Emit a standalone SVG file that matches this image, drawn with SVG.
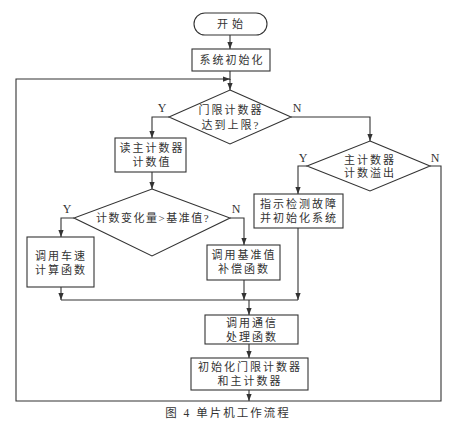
<svg xmlns="http://www.w3.org/2000/svg" width="456" height="424" viewBox="0 0 456 424">
<defs>
<marker id="ah" viewBox="0 0 8 8" refX="8" refY="4" markerWidth="7" markerHeight="7" markerUnits="userSpaceOnUse" orient="auto">
<path d="M0,1 L8,4 L0,7 Z" fill="#333"/>
</marker>
<style>
.n{fill:#fff;stroke:#333;stroke-width:1.1}
.t{font-family:"Liberation Serif","Noto Sans CJK SC",serif;font-size:11px;letter-spacing:2px;fill:#333;text-anchor:middle}
.l{font-family:"Liberation Serif",serif;font-size:12px;fill:#333;text-anchor:middle}
.c{fill:none;stroke:#333;stroke-width:1.1}
.a{fill:none;stroke:#333;stroke-width:1.1;marker-end:url(#ah)}
</style>
</defs>
<rect width="456" height="424" fill="#fff"/>
<g id="connectors">
<path class="a" d="M230,35 V49"/>
<path class="c" d="M230,71 V80"/>
<path class="a" d="M230,79 V90"/>
<path class="a" d="M249,390 V401"/>
<path class="a" d="M430,166 H441 V401 H16 V79 H230"/>
<path class="a" d="M169,117 H152 V138"/>
<path class="a" d="M291,117 H370 V141"/>
<path class="a" d="M152,172 V189"/>
<path class="a" d="M74,218 H61 V237"/>
<path class="a" d="M230,218 H244 V245"/>
<path class="a" d="M307,166 H298 V194"/>
<path class="a" d="M61,287 V300"/>
<path class="a" d="M244,280 V300"/>
<path class="a" d="M298,228 V300"/>
<path class="c" d="M61,300 H298"/>
<path class="a" d="M249,300 V315"/>
<path class="a" d="M249,344 V358"/>
<text class="l" x="162" y="112">Y</text>
<text class="l" x="297" y="112">N</text>
<text class="l" x="67" y="213">Y</text>
<text class="l" x="236" y="213">N</text>
<text class="l" x="303" y="162">Y</text>
<text class="l" x="435" y="162">N</text>
</g>
<g id="start">
<rect class="n" x="194" y="13" width="73" height="22" rx="11"/>
<text class="t" x="232" y="28" style="letter-spacing:4px">开始</text>
</g>
<g id="init">
<rect class="n" x="192" y="49" width="78" height="22"/>
<text class="t" x="232" y="64">系统初始化</text>
</g>
<g id="d1">
<polygon class="n" points="230,90 291,117 230,144 169,117"/>
<text class="t" x="231" y="114">门限计数器</text>
<text class="t" x="231" y="129">达到上限?</text>
</g>
<g id="read">
<rect class="n" x="115" y="138" width="71" height="34"/>
<text class="t" x="152" y="152">读主计数器</text>
<text class="t" x="152" y="166">计数值</text>
</g>
<g id="d2">
<polygon class="n" points="152,189 230,218 152,256 74,218"/>
<text class="t" x="153" y="222" style="letter-spacing:1.5px">计数变化量&gt;基准值?</text>
</g>
<g id="speed">
<rect class="n" x="27" y="237" width="67" height="50"/>
<text class="t" x="61" y="260">调用车速</text>
<text class="t" x="61" y="274">计算函数</text>
</g>
<g id="comp">
<rect class="n" x="207" y="245" width="73" height="35"/>
<text class="t" x="244" y="259">调用基准值</text>
<text class="t" x="244" y="273">补偿函数</text>
</g>
<g id="d3">
<polygon class="n" points="370,141 430,166 370,191 307,166"/>
<text class="t" x="370" y="164">主计数器</text>
<text class="t" x="370" y="177">计数溢出</text>
</g>
<g id="fault">
<rect class="n" x="254" y="194" width="89" height="34"/>
<text class="t" x="299" y="208">指示检测故障</text>
<text class="t" x="299" y="222">并初始化系统</text>
</g>
<g id="comm">
<rect class="n" x="205" y="315" width="93" height="29"/>
<text class="t" x="252" y="327">调用通信</text>
<text class="t" x="252" y="341">处理函数</text>
</g>
<g id="reinit">
<rect class="n" x="191" y="358" width="117" height="32"/>
<text class="t" x="250" y="371">初始化门限计数器</text>
<text class="t" x="250" y="385">和主计数器</text>
</g>
<text class="t" x="228" y="417" style="font-size:11.5px">图 4  单片机工作流程</text>
</svg>
